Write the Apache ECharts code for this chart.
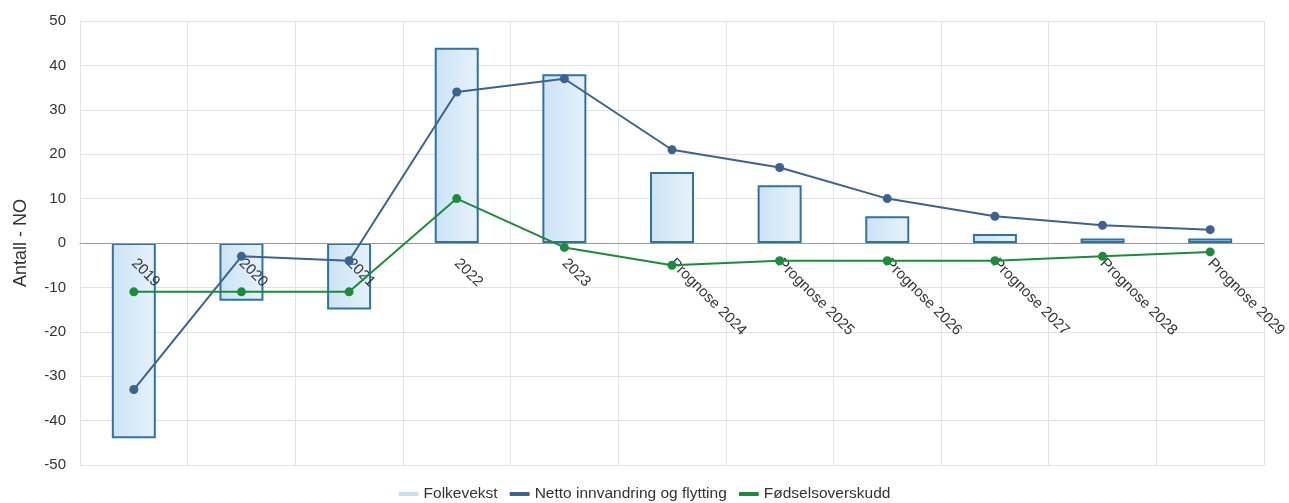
<!DOCTYPE html>
<html>
<head>
<meta charset="utf-8">
<script src="https://cdn.jsdelivr.net/npm/echarts@6/dist/echarts.min.js"></script>
<style>
  html, body { margin: 0; padding: 0; background: #fff; }
  #chart { width: 1289px; height: 503px; }
</style>
</head>
<body>
<div id="chart"></div>
<script>
// Befolkningsutvikling: år og prognoser
const categories = ['2019', '2020', '2021', '2022', '2023',
  'Prognose 2024', 'Prognose 2025', 'Prognose 2026', 'Prognose 2027', 'Prognose 2028', 'Prognose 2029'];
const folkevekst = [-44, -13, -15, 44, 38, 16, 13, 6, 2, 1, 1];
const nettoInnvandring = [-33, -3, -4, 34, 37, 21, 17, 10, 6, 4, 3];
const fodselsoverskudd = [-11, -11, -11, 10, -1, -5, -4, -4, -4, -3, -2];
const yTicks = { min: -50, max: 50, interval: 10 };

const chart = echarts.init(document.getElementById('chart'), null, { renderer: 'canvas' });

const fontFamily = 'Liberation Sans, Arial, sans-serif';
const gridTop = 21;
const gridBottom = 38;
const plotHeight = 503 - gridTop - gridBottom;

chart.setOption({
  animation: false,
  textStyle: { fontFamily: fontFamily },
  grid: { left: 80, right: 25, top: gridTop, bottom: gridBottom, containLabel: false, outerBoundsMode: 'none' },
  legend: {
    bottom: -4,
    left: 'center',
    itemWidth: 20,
    itemHeight: 4,
    itemGap: 12,
    textStyle: { fontSize: 15.5, color: '#333', fontFamily: fontFamily },
    data: [
      { name: 'Folkevekst', icon: 'roundRect', itemStyle: { color: '#c8e0f3', borderWidth: 0 } },
      { name: 'Netto innvandring og flytting', icon: 'roundRect', itemStyle: { color: '#3b6290', borderWidth: 0 } },
      { name: 'Fødselsoverskudd', icon: 'roundRect', itemStyle: { color: '#1a8c3a', borderWidth: 0 } }
    ]
  },
  xAxis: {
    type: 'category',
    data: categories,
    boundaryGap: true,
    z: 3,
    // axis (line and labels) sits on the zero value, halfway up the plot
    offset: -plotHeight / 2,
    axisLine: { onZero: false, lineStyle: { color: '#999', width: 1 } },
    axisTick: { show: false },
    axisLabel: {
      rotate: -45,
      interval: 0,
      fontSize: 15,
      color: '#333',
      margin: 18,
      fontFamily: fontFamily
    },
    splitLine: { show: true, lineStyle: { color: '#e2e2e2', width: 1 } }
  },
  yAxis: {
    type: 'value',
    min: yTicks.min,
    max: yTicks.max,
    interval: yTicks.interval,
    name: 'Antall - NO',
    nameLocation: 'middle',
    nameGap: 50,
    nameTextStyle: { fontSize: 18, color: '#333', fontFamily: fontFamily },
    axisLine: { show: true, lineStyle: { color: '#e2e2e2' } },
    axisTick: { show: false },
    axisLabel: { fontSize: 15, color: '#333', margin: 14, fontFamily: fontFamily },
    splitLine: { show: true, lineStyle: { color: '#e2e2e2', width: 1 } }
  },
  series: [
    {
      name: 'Folkevekst',
      type: 'bar',
      data: folkevekst,
      barWidth: 44,
      itemStyle: {
        color: new echarts.graphic.LinearGradient(0, 0, 1, 0, [
          { offset: 0, color: '#cbe3f5' },
          { offset: 1, color: '#e6f2fb' }
        ]),
        borderColor: '#2f73a6',
        borderWidth: 2
      },
      z: 1
    },
    {
      name: 'Netto innvandring og flytting',
      type: 'line',
      data: nettoInnvandring,
      symbol: 'circle',
      symbolSize: 9,
      lineStyle: { color: '#3b6290', width: 2 },
      itemStyle: { color: '#3b6290' },
      z: 5
    },
    {
      name: 'Fødselsoverskudd',
      type: 'line',
      data: fodselsoverskudd,
      symbol: 'circle',
      symbolSize: 9,
      lineStyle: { color: '#1a8c3a', width: 2 },
      itemStyle: { color: '#1a8c3a' },
      z: 5
    }
  ]
});
</script>
</body>
</html>
